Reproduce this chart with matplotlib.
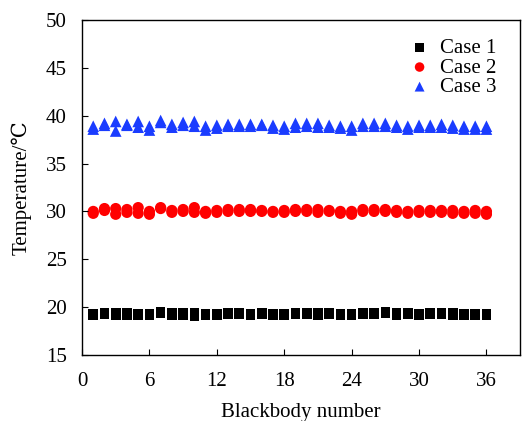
import matplotlib.pyplot as plt

plt.rcParams['font.family'] = ['Liberation Serif', 'DejaVu Serif']
plt.rcParams['font.serif'] = ['Liberation Serif', 'DejaVu Serif']
fam = ['Liberation Serif', 'DejaVu Serif']

# blackbody index (two repeated readings per blackbody)
n = list(range(1, 37))

case1_a = [19.2, 19.3, 19.2, 19.2, 19.2, 19.2, 19.4, 19.2, 19.2, 19.1,
           19.2, 19.2, 19.3, 19.3, 19.2, 19.3, 19.2, 19.2, 19.3, 19.3,
           19.2, 19.3, 19.2, 19.2, 19.3, 19.3, 19.4, 19.2, 19.3, 19.2,
           19.3, 19.3, 19.2, 19.2, 19.2, 19.2]
case1_b = [19.3, 19.4, 19.4, 19.4, 19.3, 19.3, 19.5, 19.4, 19.4, 19.4,
           19.3, 19.3, 19.4, 19.4, 19.3, 19.4, 19.3, 19.3, 19.4, 19.4,
           19.4, 19.4, 19.3, 19.3, 19.4, 19.4, 19.5, 19.4, 19.4, 19.3,
           19.4, 19.4, 19.4, 19.3, 19.3, 19.3]

case2_a = [29.8, 30.1, 29.7, 29.9, 29.8, 29.7, 30.3, 29.9, 30.0, 29.9,
           29.8, 29.9, 30.0, 30.0, 30.0, 30.0, 29.9, 29.9, 30.0, 30.0,
           29.9, 30.0, 29.8, 29.7, 30.0, 30.0, 30.0, 29.9, 29.8, 29.9,
           29.9, 29.9, 29.8, 29.8, 29.8, 29.7]
case2_b = [30.0, 30.3, 30.3, 30.2, 30.4, 30.0, 30.4, 30.1, 30.2, 30.4,
           30.0, 30.1, 30.2, 30.2, 30.2, 30.1, 30.0, 30.1, 30.2, 30.2,
           30.2, 30.1, 30.0, 30.0, 30.2, 30.2, 30.2, 30.1, 30.0, 30.1,
           30.1, 30.1, 30.1, 30.0, 30.1, 30.0]

case3_a = [38.6, 39.0, 38.4, 39.0, 38.8, 38.5, 39.3, 38.8, 39.0, 38.9,
           38.5, 38.7, 38.9, 38.9, 38.9, 39.0, 38.7, 38.6, 38.8, 38.9,
           38.8, 38.8, 38.7, 38.5, 38.9, 38.9, 38.9, 38.8, 38.6, 38.8,
           38.8, 38.8, 38.7, 38.6, 38.6, 38.6]
case3_b = [38.9, 39.2, 39.4, 39.1, 39.4, 38.9, 39.5, 39.1, 39.3, 39.4,
           38.9, 39.0, 39.1, 39.1, 39.1, 39.1, 39.0, 38.9, 39.2, 39.2,
           39.2, 39.0, 38.9, 38.9, 39.2, 39.2, 39.2, 39.0, 38.9, 39.0,
           39.0, 39.1, 39.0, 38.9, 38.9, 38.9]

fig = plt.figure(figsize=(5.27, 4.21), dpi=100)
ax = fig.add_axes([0.1556, 0.1568, 0.8314, 0.7957])

ax.scatter(n + n, case1_a + case1_b, marker='s', s=48, color='black', label='Case 1', edgecolors='none')
ax.scatter(n + n, case2_a + case2_b, marker='o', s=65, color='#ff0000', label='Case 2', edgecolors='none')
ax.scatter(n + n, case3_a + case3_b, marker='^', s=70, color='#1a3cff', label='Case 3', edgecolors='none')

ax.set_xlim(0, 39)
ax.set_ylim(15, 50)
ax.set_xticks(range(0, 37, 6))
ax.set_yticks(range(15, 51, 5))
ax.tick_params(direction='in', labelsize=15, length=4, top=False, right=False)
ax.tick_params(axis='x', pad=12)
ax.tick_params(axis='y', pad=11)
for lab in ax.get_xticklabels() + ax.get_yticklabels():
    lab.set_family(fam)
for s in ax.spines.values():
    s.set_linewidth(1.0)

ax.set_xlabel('Blackbody number', fontsize=15, labelpad=9, family=fam)
ax.set_ylabel('Temperature/℃', fontsize=15, labelpad=10, family=fam)

ax.legend(loc='upper right', bbox_to_anchor=(0.985, 0.995), frameon=False,
          prop={'family': fam, 'size': 15},
          handletextpad=0.0, labelspacing=0.0, borderaxespad=0.4, markerscale=0.85)

fig.savefig('out.png', dpi=100)
